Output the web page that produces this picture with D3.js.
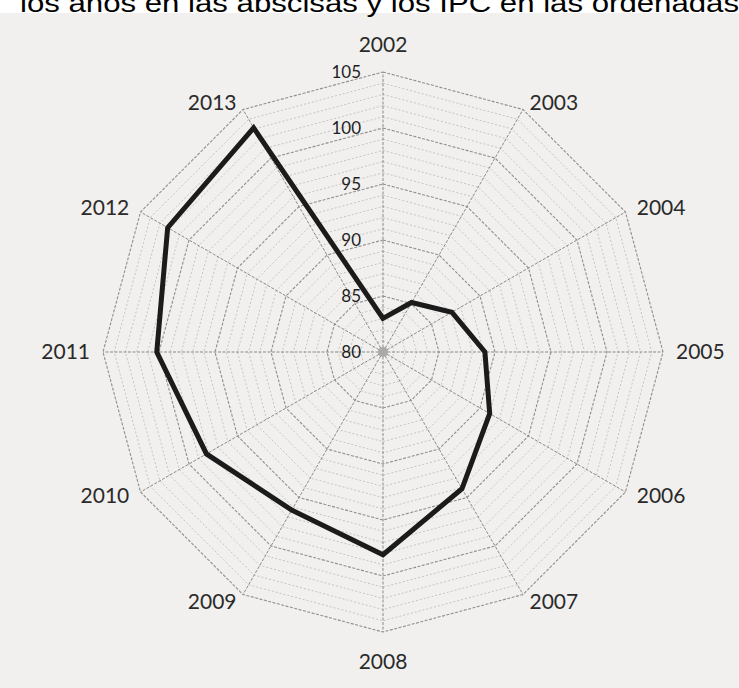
<!DOCTYPE html>
<html><head><meta charset="utf-8">
<script src="https://cdn.jsdelivr.net/npm/d3@7"></script>
<style>html,body{margin:0;padding:0;background:#fff;overflow:hidden}</style>
</head><body>
<svg id="c" width="739" height="688"></svg>
<script>
const years = ["2002","2003","2004","2005","2006","2007","2008","2009","2010","2011","2012","2013"];
const ipc = [83.0, 85.1, 87.1, 89.1, 91.0, 94.1, 98.1, 96.3, 98.2, 100.2, 102.2, 103.1];
const ticks = [80, 85, 90, 95, 100, 105];
const titleText = "los años en las abscisas y los IPC en las ordenadas";

const svg = d3.select("#c");
const cx = 383, cy = 352, R = 280;
svg.append("rect").attr("x",0).attr("y",13).attr("width",739).attr("height",675).attr("fill","#f1f0ee");
svg.append("text").attr("x",20).attr("y",12).attr("textLength",719).attr("lengthAdjust","spacingAndGlyphs")
  .attr("font-family","Liberation Sans, Arial, sans-serif").attr("font-size",26).attr("fill","#000").text(titleText);

const r = d3.scaleLinear().domain([80,105]).range([0,R]);
const ang = d3.scalePoint().domain(years).range([0, 2*Math.PI*(11/12)]);
const g = svg.append("g").attr("transform",`translate(${cx},${cy})`);

const levels = d3.range(80, 106, 1);
const ring = d3.lineRadial().curve(d3.curveLinearClosed);
levels.forEach(v => {
  if (v === 80) return;
  const major = v % 5 === 0;
  g.append("path")
    .attr("d", ring(years.map(y => [ang(y), r(v)])))
    .attr("fill","none")
    .attr("stroke", major ? "#8f8f8f" : "#b9b9b9")
    .attr("stroke-width", major ? 1.1 : 0.8)
    .attr("stroke-dasharray", major ? "3,1.5" : "2,2");
});
years.forEach(y => {
  const a = ang(y);
  g.append("line").attr("x1",0).attr("y1",0)
    .attr("x2", Math.sin(a)*r(105)).attr("y2", -Math.cos(a)*r(105))
    .attr("stroke","#8a8a8a").attr("stroke-width",1).attr("stroke-dasharray","3,1.5");
});
g.append("circle").attr("r",5).attr("fill","#a9a9a9");

// tick labels
g.selectAll("text.tk").data(ticks).enter().append("text")
  .attr("x",-22).attr("y", d => -r(d)).attr("dy","0.35em")
  .attr("text-anchor","end").attr("font-family","Lato, sans-serif").attr("font-size",17)
  .attr("fill","#1e1e1e").text(d => d);

// category labels
years.forEach(y => {
  const a = ang(y), s = Math.sin(a), c = Math.cos(a);
  let x, yy, anchor;
  if (Math.abs(s) < 0.01) { x = 0; yy = c > 0 ? -307 : 310; anchor = "middle"; }
  else { x = s*293; yy = -c*288; anchor = s > 0 ? "start" : "end"; }
  g.append("text").attr("x",x).attr("y",yy).attr("dy","0.35em").attr("text-anchor",anchor)
    .attr("font-family","Lato, sans-serif").attr("font-size",21).attr("fill","#2a2a2a").text(y);
});

// data line
g.append("path")
  .attr("d", d3.lineRadial().curve(d3.curveLinearClosed)(years.map((y,i) => [ang(y), r(ipc[i])])))
  .attr("fill","none").attr("stroke","#1b1b1b").attr("stroke-width",5).attr("stroke-linejoin","miter");
</script>
</body></html>
